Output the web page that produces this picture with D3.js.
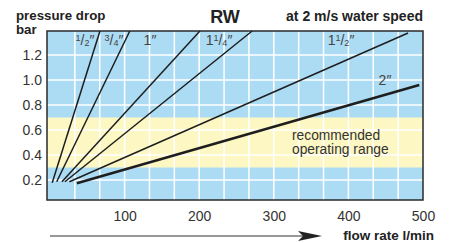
<!DOCTYPE html>
<html>
<head>
<meta charset="utf-8">
<script src="https://cdn.jsdelivr.net/npm/d3@7"></script>
<style>
  body { margin: 0; background: #fff; }
  svg { display: block; font-family: "Liberation Sans", Arial, sans-serif; }
</style>
</head>
<body>
<svg id="chart" width="453" height="243"></svg>
<script>
// pipe sizes (whole part, fraction num, fraction den)
var sizes = ["1/2", "3/4", "1", "1 1/4", "1 1/2", "2"];
// line start and end points (flow l/min, bar)
var startFlow = [3, 9, 16, 20, 26, 36];
var startBar = [0.178, 0.186, 0.186, 0.186, 0.186, 0.174];
var endFlow = [67, 107, 201, 271, 480, 495];
var endBar = [1.392, 1.392, 1.392, 1.392, 1.376, 0.96];
var xTicks = [100, 200, 300, 400, 500];
var yTicks = [0.2, 0.4, 0.6, 0.8, 1.0, 1.2];
var bandLow = 0.3, bandHigh = 0.7;

var margin = {top: 31, left: 47, right: 30, bottom: 43};
var width = 453 - margin.left - margin.right,
    height = 243 - margin.top - margin.bottom;

var svg = d3.select("#chart");
var g = svg.append("g")
    .attr("transform", "translate(" + margin.left + "," + margin.top + ")");

var x = d3.scaleLinear().domain([-4, 500]).range([0, width]);
var y = d3.scaleLinear().domain([0.04, 1.392]).range([height, 0]);

// background
g.append("rect").attr("width", width).attr("height", height).attr("fill", "#abdcf4");
g.append("rect")
    .attr("y", y(bandHigh))
    .attr("width", width)
    .attr("height", y(bandLow) - y(bandHigh))
    .attr("fill", "#fdf7c4");

// grid
var vGrid = d3.range(1, 15).map(function(i) { return i * 100 / 3; });
g.selectAll(".vgrid").data(vGrid).enter().append("line")
    .attr("x1", d => x(d)).attr("x2", d => x(d))
    .attr("y1", 0).attr("y2", height)
    .attr("stroke", "#fff").attr("stroke-width", 1.5);
g.selectAll(".hgrid").data(yTicks).enter().append("line")
    .attr("y1", d => y(d)).attr("y2", d => y(d))
    .attr("x1", 0).attr("x2", width)
    .attr("stroke", "#fff").attr("stroke-width", 1.5);

// frame
g.append("rect").attr("width", width).attr("height", height)
    .attr("fill", "none").attr("stroke", "#2a2a2a").attr("stroke-width", 1.5);

// axes labels
var xAxis = d3.axisBottom(x).tickValues(xTicks).tickSize(0).tickPadding(11);
var xa = g.append("g").attr("transform", "translate(0," + height + ")").call(xAxis);
xa.select(".domain").remove();
xa.selectAll("text").attr("font-size", 14).attr("fill", "#333").attr("font-family", null);

var yAxis = d3.axisLeft(y).tickValues(yTicks).tickSize(0).tickPadding(5).tickFormat(d3.format(".1f"));
var ya = g.append("g").call(yAxis);
ya.select(".domain").remove();
ya.selectAll("text").attr("font-size", 14).attr("fill", "#333").attr("font-family", null);

// lines
var lines = sizes.map(function(s, i) {
  return {size: s, pts: [[startFlow[i], startBar[i]], [endFlow[i], endBar[i]]]};
});
var line = d3.line().x(d => x(d[0])).y(d => y(d[1]));
g.selectAll(".pipe").data(lines).enter().append("path")
    .attr("d", d => line(d.pts))
    .attr("fill", "none")
    .attr("stroke", "#1e1e1e")
    .attr("stroke-width", (d, i) => i == 5 ? 2.5 : 1.5);

// pipe labels
var labelPos = [[85, 45], [114, 45], [150, 45], [219, 45], [341, 45], [385, 85]];
sizes.forEach(function(s, i) {
  var t = svg.append("text")
      .attr("x", labelPos[i][0]).attr("y", labelPos[i][1])
      .attr("text-anchor", "middle")
      .attr("font-size", 14).attr("fill", "#444");
  var parts = s.split(" ");
  var whole = "", frac = null;
  if (parts.length == 2) { whole = parts[0]; frac = parts[1]; }
  else if (s.indexOf("/") >= 0) { frac = s; }
  else { whole = s; }
  if (whole) t.append("tspan").text(whole);
  if (frac) {
    var nd = frac.split("/");
    t.append("tspan").attr("font-size", 9).attr("dy", -4).text(nd[0]);
    t.append("tspan").attr("dy", 4).text("/");
    t.append("tspan").attr("font-size", 9).attr("dy", 1).text(nd[1]);
    t.append("tspan").attr("dy", -1).text("\u2033");
  } else {
    t.append("tspan").text("\u2033");
  }
});

// band label
svg.append("text").attr("x", 292).attr("y", 140).attr("font-size", 13.8).attr("fill", "#333")
    .text("recommended");
svg.append("text").attr("x", 292).attr("y", 154).attr("font-size", 13.8).attr("fill", "#333")
    .text("operating range");

// titles
svg.append("text").attr("x", 16).attr("y", 20).attr("font-size", 13.3).attr("font-weight", "bold")
    .attr("fill", "#222").text("pressure drop");
svg.append("text").attr("x", 16).attr("y", 34).attr("font-size", 13.3).attr("font-weight", "bold")
    .attr("fill", "#222").text("bar");
svg.append("text").attr("x", 225).attr("y", 23).attr("text-anchor", "middle").attr("font-size", 18)
    .attr("font-weight", "bold").attr("fill", "#222").text("RW");
svg.append("text").attr("x", 423).attr("y", 21).attr("text-anchor", "end").attr("font-size", 14)
    .attr("font-weight", "bold").attr("fill", "#222").text("at 2 m/s water speed");
svg.append("text").attr("x", 434).attr("y", 240).attr("text-anchor", "end").attr("font-size", 13.5)
    .attr("font-weight", "bold").attr("fill", "#222").text("flow rate l/min");

// arrow
svg.append("line").attr("x1", 50).attr("x2", 305).attr("y1", 236).attr("y2", 236)
    .attr("stroke", "#333").attr("stroke-width", 1.2);
svg.append("path").attr("d", "M298,231 L322,236 L298,241 L303,236 Z").attr("fill", "#222");
</script>
</body>
</html>
